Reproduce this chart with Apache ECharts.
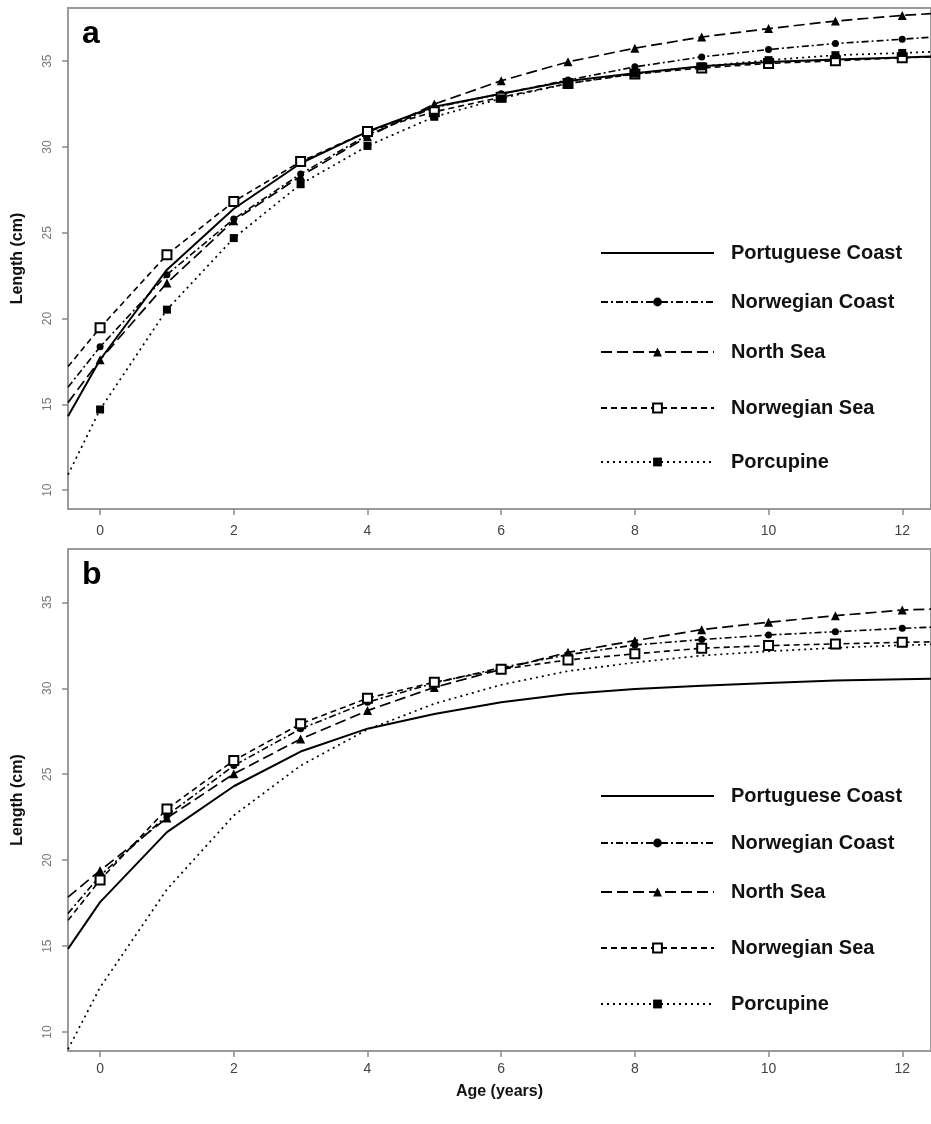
<!DOCTYPE html>
<html>
<head>
<meta charset="utf-8">
<script src="https://cdn.jsdelivr.net/npm/echarts@6/dist/echarts.min.js"></script>
<style>
html,body{margin:0;padding:0;background:#fff;}
#chart{width:931px;height:1124px;}
</style>
</head>
<body>
<div id="chart"></div>
<script>
// Ages (x positions of curve points; first/last are the plot edges)
const ages = [-0.48, 0, 1, 2, 3, 4, 5, 6, 7, 8, 9, 10, 11, 12, 12.43];
const seriesNames = ['Portuguese Coast', 'Norwegian Coast', 'North Sea', 'Norwegian Sea', 'Porcupine'];
const xTicks = [0, 2, 4, 6, 8, 10, 12];
const yTicks = [10, 15, 20, 25, 30, 35];

// Panel a
const aPortuguese = [14.3, 17.6, 22.85, 26.4, 29.05, 30.9, 32.35, 33.1, 33.85, 34.3, 34.7, 34.95, 35.1, 35.22, 35.27];
const aNorwCoast  = [16.0, 18.35, 22.56, 25.8, 28.43, 30.7, 32.3, 33.1, 33.9, 34.67, 35.25, 35.68, 36.03, 36.28, 36.4];
const aNorthSea   = [15.1, 17.6, 22.07, 25.7, 28.3, 30.6, 32.5, 33.86, 34.96, 35.76, 36.41, 36.9, 37.34, 37.67, 37.77];
const aNorwSea    = [17.2, 19.46, 23.72, 26.82, 29.15, 30.9, 32.05, 32.9, 33.7, 34.25, 34.6, 34.87, 35.02, 35.2, 35.25];
const aPorcupine  = [10.9, 14.7, 20.52, 24.69, 27.83, 30.06, 31.76, 32.83, 33.7, 34.28, 34.7, 35.06, 35.35, 35.48, 35.55];

// Panel b
const bPortuguese = [14.84, 17.56, 21.63, 24.3, 26.32, 27.65, 28.5, 29.19, 29.67, 29.96, 30.15, 30.31, 30.45, 30.52, 30.55];
const bNorwCoast  = [16.9, 19.1, 22.6, 25.5, 27.64, 29.19, 30.3, 31.2, 31.95, 32.52, 32.83, 33.1, 33.29, 33.49, 33.55];
const bNorthSea   = [17.85, 19.4, 22.45, 25.02, 27.05, 28.7, 30.05, 31.1, 32.09, 32.77, 33.41, 33.84, 34.22, 34.55, 34.6];
const bNorwSea    = [16.5, 18.85, 22.98, 25.8, 27.93, 29.42, 30.35, 31.1, 31.65, 32.0, 32.33, 32.48, 32.58, 32.67, 32.7];
const bPorcupine  = [9.0, 12.6, 18.3, 22.6, 25.5, 27.6, 29.1, 30.2, 31.0, 31.5, 31.9, 32.15, 32.35, 32.5, 32.55];

const styles = {
  'Portuguese Coast': {dash: 'solid', width: 2, symbol: 'none', size: 0},
  'Norwegian Coast':  {dash: [7, 3, 2, 3], width: 1.6, symbol: 'circle', size: 7},
  'North Sea':        {dash: [11, 5], width: 1.7, symbol: 'triangle', size: 9},
  'Norwegian Sea':    {dash: [6, 4], width: 1.6, symbol: 'emptyRect', size: 9},
  'Porcupine':        {dash: [2, 4], width: 1.7, symbol: 'rect', size: 8}
};

function mkData(vals, withMarkers) {
  return vals.map(function (v, i) {
    const edge = (i === 0 || i === vals.length - 1);
    const item = {value: [ages[i], v]};
    if (edge || !withMarkers) item.symbolSize = 0;
    return item;
  });
}

function mkSeries(name, vals, gi, withMarkers) {
  const s = styles[name];
  return {
    type: 'line', name: name, xAxisIndex: gi, yAxisIndex: gi,
    data: mkData(vals, withMarkers),
    symbol: s.symbol, symbolSize: s.size, showSymbol: s.symbol !== 'none',
    clip: true, animation: false, silent: true,
    lineStyle: {color: '#000', width: s.width, type: s.dash},
    itemStyle: {color: '#000', borderWidth: s.symbol === 'emptyRect' ? 1.2 : 0}
  };
}

const FONT = 'Liberation Sans, Arial, sans-serif';
const grids = [
  {left: 68, top: 8, right: -2, height: 501, show: true, borderColor: '#9a9a9a', borderWidth: 2},
  {left: 68, top: 549, right: -2, height: 502, show: true, borderColor: '#9a9a9a', borderWidth: 2}
];

function mkX(gi, showName, labelMargin) {
  return {
    type: 'value', gridIndex: gi, min: -0.48, max: 12.43,
    axisLine: {show: true, onZero: false, lineStyle: {color: '#9a9a9a', width: 2}},
    axisTick: {show: true, length: 6, customValues: xTicks, lineStyle: {color: '#8a8a8a', width: 1.5}},
    axisLabel: {customValues: xTicks, color: '#444', fontSize: 14, fontFamily: FONT, margin: labelMargin, showMaxLabel: true, showMinLabel: true},
    splitLine: {show: false},
    name: showName ? 'Age (years)' : '',
    nameLocation: 'middle', nameGap: 33,
    nameTextStyle: {fontFamily: FONT, fontWeight: 'bold', fontSize: 16, color: '#111'}
  };
}
function mkY(gi) {
  return {
    type: 'value', gridIndex: gi, min: 8.9, max: 38.1,
    axisLine: {show: true, onZero: false, lineStyle: {color: '#9a9a9a', width: 2}},
    axisTick: {show: true, length: 6, customValues: yTicks, lineStyle: {color: '#8a8a8a', width: 1.5}},
    axisLabel: {customValues: yTicks, rotate: 90, color: '#777', fontSize: 12, fontFamily: FONT, margin: 14},
    splitLine: {show: false},
    name: 'Length (cm)', nameLocation: 'middle', nameGap: 42,
    nameTextStyle: {fontFamily: FONT, fontWeight: 'bold', fontSize: 16, color: '#111'}
  };
}

function mkLegend(name, centerY) {
  const lg = {
    data: [name], orient: 'vertical', left: 600, top: centerY - 10, padding: 0,
    itemWidth: 113, itemHeight: 11, selectedMode: false,
    textStyle: {fontFamily: FONT, fontWeight: 'bold', fontSize: 20, color: '#111', padding: [0, 0, 0, 12]},
    inactiveColor: '#000'
  };
  if (name === 'Portuguese Coast') lg.itemStyle = {color: 'rgba(0,0,0,0)', borderWidth: 0};
  return lg;
}
const legendRowsA = [253, 302, 352, 408, 462];
const legendRowsB = [796, 843, 892, 948, 1004];
const legends = [];
seriesNames.forEach(function (n, i) { legends.push(mkLegend(n, legendRowsA[i])); });
seriesNames.forEach(function (n, i) { legends.push(mkLegend(n, legendRowsB[i])); });

const aVals = [aPortuguese, aNorwCoast, aNorthSea, aNorwSea, aPorcupine];
const bVals = [bPortuguese, bNorwCoast, bNorthSea, bNorwSea, bPorcupine];
const series = [];
seriesNames.forEach(function (n, i) { series.push(mkSeries(n, aVals[i], 0, true)); });
seriesNames.forEach(function (n, i) { series.push(mkSeries(n, bVals[i], 1, n !== 'Porcupine')); });

const chart = echarts.init(document.getElementById('chart'), null, {renderer: 'canvas'});
chart.setOption({
  backgroundColor: '#fff',
  animation: false,
  grid: grids,
  xAxis: [mkX(0, false, 15), mkX(1, true, 11)],
  yAxis: [mkY(0), mkY(1)],
  legend: legends,
  series: series,
  graphic: [
    {type: 'text', left: 82, top: 18, style: {text: 'a', font: '900 32px Liberation Sans, Arial, sans-serif', fill: '#000'}},
    {type: 'text', left: 82, top: 559, style: {text: 'b', font: '900 32px Liberation Sans, Arial, sans-serif', fill: '#000'}},
    // the lower panel's frame overlaps the bottom of the upper panel's tick labels
    {type: 'rect', left: 60, top: 535, z: 100, shape: {width: 880, height: 13}, style: {fill: '#fff'}}
  ]
});
</script>
</body>
</html>
